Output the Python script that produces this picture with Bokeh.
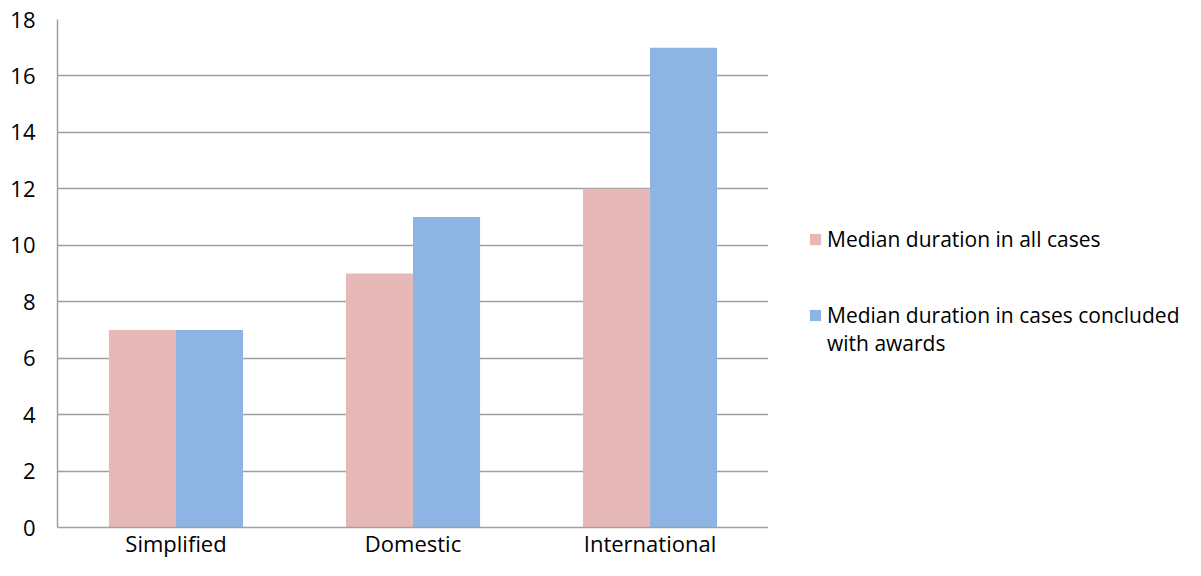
from bokeh.plotting import figure
from bokeh.models import ColumnDataSource, Legend, LegendItem, FactorRange
from bokeh.layouts import row
from bokeh.transform import dodge
from bokeh.embed import file_html
from bokeh.resources import INLINE

categories = ["Simplified", "Domestic", "International"]
all_cases = [7, 9, 12]
with_awards = [7, 11, 17]
series_labels = ["Median duration in all cases", "Median duration in cases concluded", "with awards"]
series_colors = ["#E6B9B8", "#8EB4E3"]
y_ticks = [0, 2, 4, 6, 8, 10, 12, 14, 16, 18]

FONT = "Open Sans"
GRID = "#A0A0A0"

src = ColumnDataSource(dict(cat=categories, a=all_cases, b=with_awards))

# ---------- main chart ----------
p = figure(x_range=FactorRange(*categories), y_range=(0, 18),
           width=768, height=560,
           output_backend="svg", toolbar_location=None,
           min_border_left=57, min_border_top=19, min_border_bottom=10, min_border_right=0)
p.outline_line_color = None
p.x_range.range_padding = 0

p.vbar(x=dodge("cat", -0.1415, range=p.x_range), top="a", width=0.283, source=src,
       fill_color=series_colors[0], line_color=None)
p.vbar(x=dodge("cat", 0.1415, range=p.x_range), top="b", width=0.283, source=src,
       fill_color=series_colors[1], line_color=None)

p.yaxis.ticker = y_ticks
p.ygrid.grid_line_color = GRID
p.ygrid.grid_line_width = 1.5
p.xgrid.grid_line_color = None
p.ygrid.level = "underlay"

for ax in (p.xaxis, p.yaxis):
    ax.axis_line_color = GRID
    ax.axis_line_width = 1.5
    ax.major_tick_line_color = None
    ax.minor_tick_line_color = None
    ax.major_tick_out = 0
    ax.major_tick_in = 0
    ax.major_label_text_font = FONT
    ax.major_label_text_font_size = "22px"
    ax.major_label_text_color = "#000000"
p.yaxis.major_label_standoff = 22
p.xaxis.major_label_standoff = 0

# ---------- legend panel ----------
# proxy renderers for the legend; their data lie outside this panel's ranges
q = figure(x_range=(-2, -1), y_range=(-2, -1), width=417, height=560,
           output_backend="svg", toolbar_location=None,
           x_axis_location=None, y_axis_location=None, min_border=0)
q.outline_line_color = None
q.grid.visible = False
lsrc = ColumnDataSource(dict(x=[1, 2, 3], a=all_cases, b=with_awards))
g1 = q.vbar(x="x", top="a", width=0.5, source=lsrc, fill_color=series_colors[0], line_color=None)
g2 = q.vbar(x="x", top="b", width=0.5, source=lsrc, fill_color=series_colors[1], line_color=None)
g0 = q.vbar(x="x", top="a", width=0.5, source=lsrc, fill_alpha=0, line_alpha=0)

legend = Legend(items=[LegendItem(label=series_labels[0], renderers=[g1]),
                       LegendItem(label=" ", renderers=[g0]),
                       LegendItem(label=" ", renderers=[g0]),
                       LegendItem(label=series_labels[1], renderers=[g2]),
                       LegendItem(label=series_labels[2], renderers=[g0])],
                location=(40, 170))
legend.label_text_font = FONT
legend.label_text_font_size = "21px"
legend.label_text_color = "#000000"
legend.glyph_width = 14
legend.glyph_height = 14
legend.label_height = 24
legend.border_line_color = None
legend.background_fill_alpha = 0
legend.spacing = 0
legend.margin = 0
legend.padding = 0
legend.label_standoff = 5
q.add_layout(legend, "center")

layout = row(p, q, spacing=0)
open("out.html", "w").write(file_html(layout, INLINE))
